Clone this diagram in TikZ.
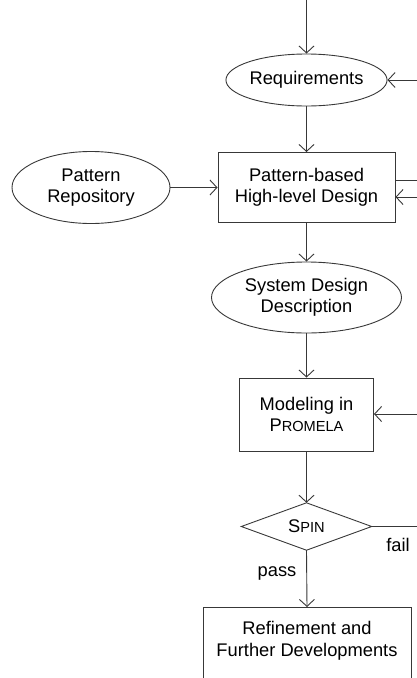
\documentclass[tikz,border=0pt]{standalone}
\usepackage{fontspec}
\setmainfont{Liberation Sans}
\usetikzlibrary{arrows.meta,shapes.geometric}
\newcommand{\fakesc}[2]{#1{\fontsize{14.6}{17}\selectfont #2}}
\begin{document}
\begin{tikzpicture}[x=1pt,y=-1pt,
  font=\fontsize{18.3}{21.5}\selectfont,
  line/.style={draw=black!78,line width=0.9pt},
  arr/.style={line,-{Straight Barb[length=7pt,width=15pt,line width=0.9pt]}},
  oval/.style={line,ellipse,inner sep=0pt,align=center},
  boxnode/.style={line,rectangle,inner sep=0pt,align=center},
  lbl/.style={inner sep=0pt,font=\fontsize{18.3}{21.5}\selectfont}]
\useasboundingbox (0,0) rectangle (417,678);
\clip (0,0) rectangle (417,678);
% nodes
\node[oval,minimum width=157pt,minimum height=52pt] (req) at (306.5,80) {Requirements};
\node[boxnode,minimum width=177pt,minimum height=70pt] (hld) at (306.5,187.5) {Pattern-based\\High-level Design};
\node[oval,minimum width=158pt,minimum height=72pt] (repo) at (91,187.5) {Pattern\\Repository};
\node[oval,minimum width=190pt,minimum height=71pt] (sdd) at (306.5,297.5) {System Design\\Description};
\node[boxnode,minimum width=134pt,minimum height=73pt] (model) at (306.5,414.5) {Modeling in\\\fakesc{P}{ROMELA}};
\node[inner sep=0pt,minimum width=130pt,minimum height=47pt] (spin) at (306.5,526.5) {\fakesc{S}{PIN}};
\draw[line] (spin.north) -- (spin.east) -- (spin.south) -- (spin.west) -- cycle;
\node[boxnode,anchor=north,minimum width=208pt,minimum height=100pt] (ref) at (307,607) {};
\node[inner sep=0pt,align=center] (reftext) at (307,641) {Refinement and\\Further Developments};
% free ends
\coordinate (top) at (306.5,0);
\coordinate (rin1) at (417,80);
\coordinate (rout1) at (417,180);
\coordinate (rin2) at (417,197);
\coordinate (rin3) at (417,414);
\coordinate (rout2) at (417,526.5);
% connectors
\draw[arr] (top) -- (req.north);
\draw[arr] (rin1) -- (req.east);
\draw[arr] (req.south) -- (hld.north);
\draw[arr] (repo.east) -- (hld.west);
\draw[line] (rout1) -- (rout1 -| hld.east);
\draw[arr] (rin2) -- (rin2 -| hld.east);
\draw[arr] (hld.south) -- (sdd.north);
\draw[arr] (sdd.south) -- (model.north);
\draw[arr] (rin3) -- (rin3 -| model.east);
\draw[arr] (model.south) -- (spin.north);
\draw[line] (spin.east) -- (rout2);
\draw[arr] (spin.south) -- (ref.north);
\node[lbl] (fail) at (398,545) {fail};
\node[lbl] (pass) at (277,573) {pass};
\end{tikzpicture}
\end{document}
